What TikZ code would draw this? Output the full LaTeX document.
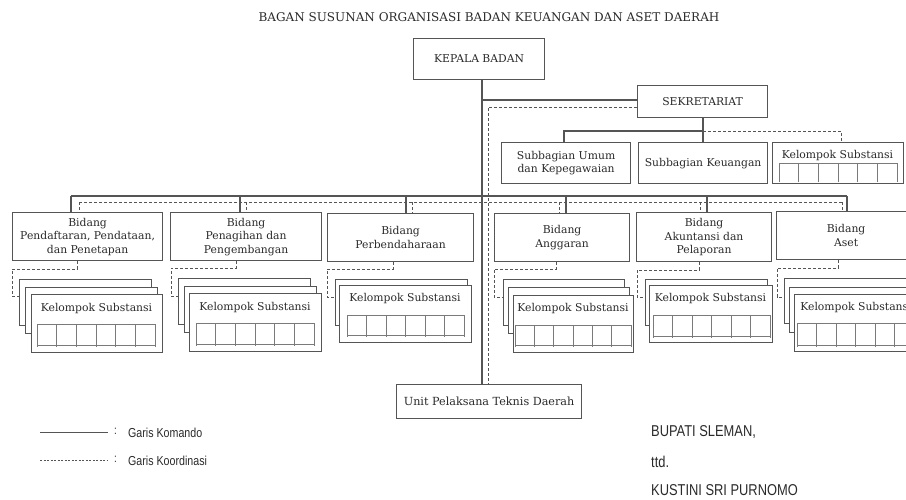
\documentclass[tikz,border=0pt]{standalone}
\usepackage{fontspec}
\setmainfont{DejaVu Serif}
\newfontfamily\narrowfont[FakeStretch=0.82]{Liberation Sans}
\definecolor{lc}{HTML}{555555}
\definecolor{gc}{HTML}{7A7A7A}
\definecolor{tc}{HTML}{2A2A2A}
\newcommand\bx[6]{\node[box, minimum width=#4pt, minimum height=#5pt] (#1) at (#2,#3) {#6};}
\newcommand\stkbox[5]{\node[sbox, minimum width=#4pt, minimum height=#5pt] (#1) at (#2,#3) {};}
\newcommand\kgrid[5]{%
  \draw[gline] (#1,#3) -- (#2,#3);
  \ifnum#5=1 \draw[gline] (#1,#4) -- (#2,#4);\fi
  \foreach \i in {0,...,6}{\pgfmathsetmacro\xx{#1+\i*(#2-#1)/6}\draw[gline] (\xx,#3) -- (\xx,#4+2);}}
\begin{document}
\begin{tikzpicture}[x=1pt,y=-1pt,
  line/.style={draw=lc, line width=1.1pt},
  dline/.style={draw=lc, line width=1pt, dash pattern=on 3pt off 2pt},
  gline/.style={draw=gc, line width=0.7pt},
  box/.style={draw=lc, line width=1.2pt, fill=white, anchor=north west, inner sep=1pt,
    align=center, text=tc, font=\fontsize{10.8}{13.5}\selectfont},
  sbox/.style={draw=lc, line width=1.2pt, fill=white, anchor=north west, inner sep=0pt},
  txt/.style={text=tc, inner sep=0pt, font=\fontsize{10.8}{13.5}\selectfont},
  ntxt/.style={text=tc, inner sep=0pt, anchor=west}]
\useasboundingbox (0,0) rectangle (906,499);
\clip (0,0) rectangle (906,499);
% title
\node[txt, font=\fontsize{12}{14}\selectfont] (title) at (489,17) {BAGAN SUSUNAN ORGANISASI BADAN KEUANGAN DAN ASET DAERAH};
% coordinates
\coordinate (tk) at (482,0);
\coordinate (td) at (488,0);
% top boxes
\bx{kepala}{413}{38}{131}{41}{KEPALA BADAN}
\bx{sek}{637}{85}{130}{32}{SEKRETARIAT}
\bx{sub1}{501}{142}{129}{41}{Subbagian Umum\\dan Kepegawaian}
\bx{sub2}{638}{142}{129}{41}{Subbagian Keuangan}
\bx{ks0}{772}{142}{131}{41}{}
\node[txt] (ks0t) at (837.5,156) {Kelompok Substansi};
\kgrid{779}{897}{163}{180}{0}
% bidang
\bx{b1}{12}{212}{150}{48}{Bidang\\Pendaftaran, Pendataan,\\dan Penetapan}
\bx{b2}{170}{212}{151}{48}{Bidang\\Penagihan dan\\Pengembangan}
\bx{b3}{327}{213}{146}{48}{Bidang\\Perbendaharaan}
\bx{b4}{494}{213}{135}{48}{Bidang\\Anggaran}
\bx{b5}{636}{212}{135}{49}{Bidang\\Akuntansi dan\\Pelaporan}
\bx{b6}{776}{211}{139}{48}{Bidang\\Aset}
\node[box, minimum width=185pt, minimum height=34pt, font=\fontsize{11.2}{13.5}\selectfont] (upt) at (396,384) {Unit Pelaksana Teknis Daerah};
% stacks
\stkbox{s1a}{19}{279}{132}{46}\stkbox{s1b}{25}{287}{132}{46}\stkbox{s1c}{31}{294}{131}{58}
\node[txt] (s1t) at (96.5,309) {Kelompok Substansi};
\kgrid{37}{155}{324}{345}{1}
\stkbox{s2a}{178}{278}{132}{46}\stkbox{s2b}{184}{286}{132}{46}\stkbox{s2c}{189}{293}{132}{58}
\node[txt] (s2t) at (255,308) {Kelompok Substansi};
\kgrid{196}{314}{323}{344}{1}
\stkbox{s3a}{335}{279}{132}{46}\stkbox{s3c}{339}{285}{132}{57}
\node[txt] (s3t) at (405,299) {Kelompok Substansi};
\kgrid{347}{464}{315}{335}{1}
\stkbox{s4a}{503}{279}{121}{46}\stkbox{s4b}{508}{287}{121}{46}\stkbox{s4c}{513}{295}{120}{57}
\node[txt] (s4t) at (573,309) {Kelompok Substansi};
\kgrid{515}{631}{325}{345}{1}
\stkbox{s5a}{645}{279}{122}{46}\stkbox{s5b}{649}{285}{123}{57}
\node[txt] (s5t) at (710.5,299) {Kelompok Substansi};
\kgrid{653}{770}{315}{336}{1}
\stkbox{s6a}{784}{278}{132}{45}\stkbox{s6b}{789}{287}{132}{45}\stkbox{s6c}{794}{294}{124}{57}
\node[txt] (s6t) at (856,308) {Kelompok Substansi};
\kgrid{797}{914}{323}{345}{1}
% connectors: kepala / sekretariat
\draw[line] (kepala.south -| tk) -- (upt.north -| tk);
\draw[line] (sek.west |- 0,100) -- (tk |- 0,100);
\draw[dline] (sek.west |- 0,107) -| (upt.north -| td);
% sekretariat subtree
\draw[line] (sek.south -| 703,0) -- (sub2.north -| 703,0);
\draw[line] (sub1.north -| 564,0) |- (703,131);
\draw[dline] (703,131) -| (ks0.north -| 841,0);
% bus
\draw[line] (71,196) -- (847,196);
\draw[dline] (79,202) -- (842,202);
\foreach \n/\sx/\dx in {b1/71/79,b2/240/246,b3/406/412,b4/566/559,b5/707/700,b6/847/842}{
  \draw[line] (\sx,196) -- (\n.north -| \sx,0);
  \draw[dline] (\dx,202) -- (\n.north -| \dx,0);
}
% bidang to kelompok
\draw[dline] (b1.south -| 77,0) |- (12,269) |- (s1a.west |- 0,296);
\draw[dline] (b2.south -| 236,0) |- (171,268) |- (s2a.west |- 0,296);
\draw[dline] (b3.south -| 393,0) |- (327,269) |- (s3a.west |- 0,297);
\draw[dline] (b4.south -| 556,0) |- (494,269) |- (s4a.west |- 0,297);
\draw[dline] (b5.south -| 699,0) |- (637,270) |- (s5a.west |- 0,297);
\draw[dline] (b6.south -| 838,0) |- (777,268) |- (s6a.west |- 0,297);
% legend
\coordinate (l1a) at (40,432); \coordinate (l1b) at (108,432);
\coordinate (l2a) at (40,460); \coordinate (l2b) at (108,460);
\draw[line, line width=0.9pt] (l1a) -- (l1b);
\draw[draw=lc, line width=0.9pt, dash pattern=on 2pt off 1.5pt] (l2a) -- (l2b);
\node[ntxt, font=\narrowfont\fontsize{12}{14}\selectfont] (c1) at (114,431) {:};
\node[ntxt, font=\narrowfont\fontsize{12}{14}\selectfont] (c2) at (114,459) {:};
\node[ntxt, font=\narrowfont\fontsize{13}{15}\selectfont] (g1) at (128,433) {Garis Komando};
\node[ntxt, font=\narrowfont\fontsize{13}{15}\selectfont] (g2) at (128,461) {Garis Koordinasi};
% signature
\node[ntxt, font=\narrowfont\fontsize{15.7}{17}\selectfont] (bup) at (651,432) {BUPATI SLEMAN,};
\node[ntxt, font=\narrowfont\fontsize{15.7}{17}\selectfont] (ttd) at (651,462) {ttd.};
\node[ntxt, font=\narrowfont\fontsize{15.7}{17}\selectfont] (kus) at (651,490) {KUSTINI SRI PURNOMO};
\end{tikzpicture}
\end{document}
